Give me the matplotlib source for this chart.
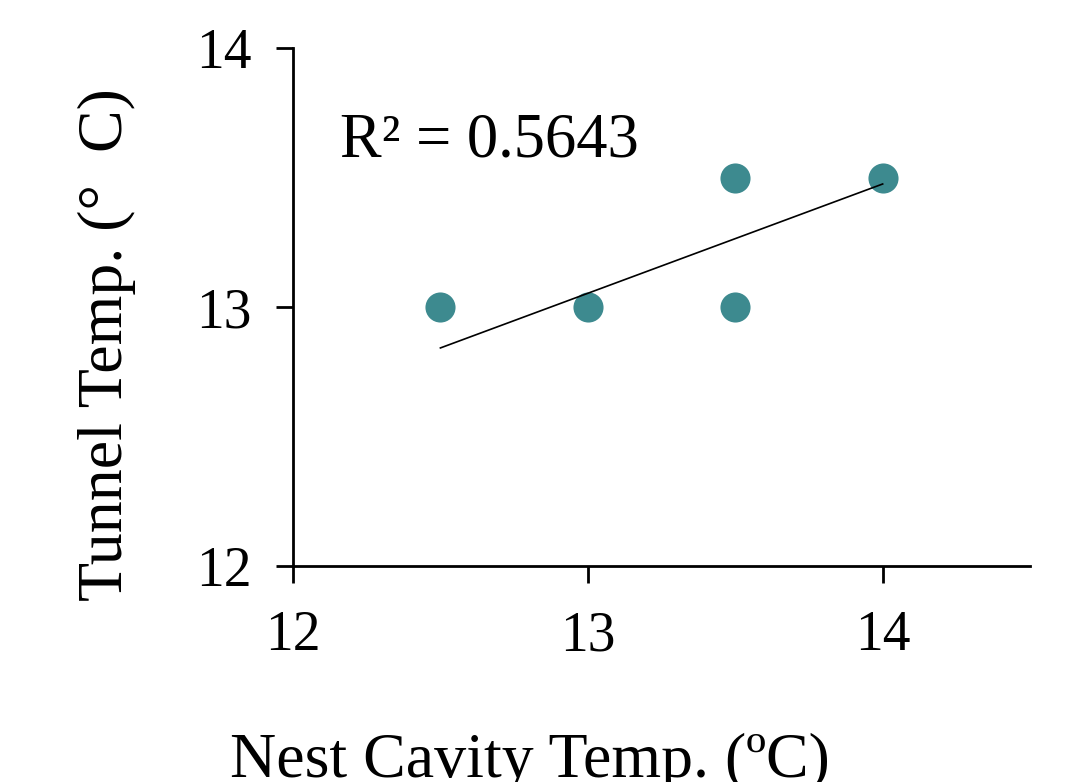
import matplotlib
matplotlib.use("Agg")
import matplotlib.pyplot as plt

# data
nest_temp = [12.5, 13.0, 13.5, 13.5, 14.0]
tunnel_temp = [13.0, 13.0, 13.5, 13.0, 13.5]
trend_x = [12.5, 14.0]
trend_y = [12.842, 13.475]
r2_label = "R² = 0.5643"
x_ticks = [12, 13, 14]
y_ticks = [12, 13, 14]

plt.rcParams["font.family"] = ["Liberation Serif", "DejaVu Serif"]

fig = plt.figure(figsize=(10.82, 7.82), dpi=100)
ax = fig.add_axes([0.2708, 0.2762, 0.6812, 0.6624])

ax.scatter(nest_temp, tunnel_temp, s=470, color="#3d8a8f", linewidths=0, zorder=2)
ax.plot(trend_x, trend_y, color="black", lw=1.2, zorder=3)

ax.set_xlim(12, 14.5)
ax.set_ylim(12, 14)
ax.set_xticks(x_ticks)
ax.set_yticks(y_ticks)
ax.tick_params(labelsize=40, length=12, width=2, direction="out")
ax.tick_params(axis="x", pad=20)
ax.tick_params(axis="y", pad=18)

for side in ["top", "right"]:
    ax.spines[side].set_visible(False)
for side in ["left", "bottom"]:
    ax.spines[side].set_linewidth(2)

ax.text(12.16, 13.58, r2_label, fontsize=45)

fig.text(0.4895, 0.006, "Nest Cavity Temp. (ºC)", fontsize=46, ha="center", va="baseline")
fig.text(0.099, 0.559, "Tunnel Temp. (°  C)", fontsize=46, rotation=90,
         ha="center", va="center")

fig.savefig("out.png", dpi=100)
